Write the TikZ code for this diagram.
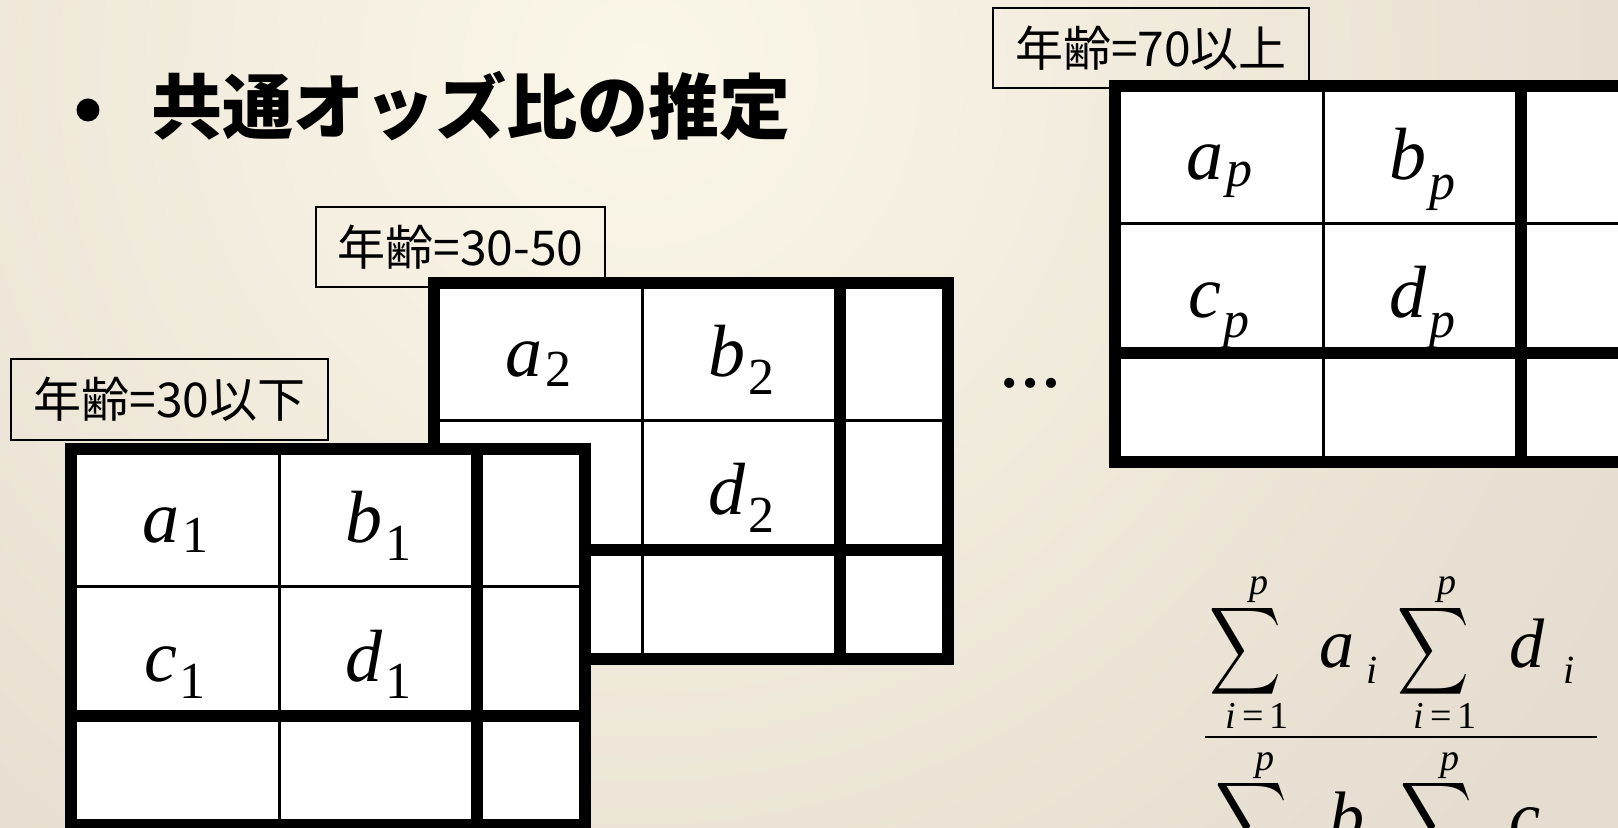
\documentclass[tikz,border=0pt]{standalone}
\usepackage{amsmath}
\usepackage{graphicx}
\usepackage{fontspec}
\newfontfamily\jp{Noto Sans CJK JP}
\newfontfamily\tms{Liberation Serif}
\usetikzlibrary{calc}
\definecolor{bgbase}{RGB}{229,221,207}
\definecolor{bglight}{RGB}{251,247,232}
\tikzset{
  thickln/.style={line width=6pt},
  thinln/.style={line width=1.5pt},
  lbl/.style={draw, line width=1pt, inner sep=0pt, anchor=north west,
    font=\jp\fontsize{24}{26}\selectfont},
  cellv/.style={anchor=base, inner sep=0pt, font=\tms\fontsize{37}{40}\selectfont},
  fletter/.style={anchor=base west, inner sep=0pt, font=\tms\itshape\fontsize{35}{37}\selectfont},
  fsub/.style={anchor=base west, inner sep=0pt, font=\tms\itshape\fontsize{20}{22}\selectfont},
  lim/.style={anchor=base, inner sep=0pt, font=\tms\fontsize{19}{21}\selectfont},
  sig/.style={inner sep=0pt, font=\fontsize{24.88}{26}\selectfont},
}
% letter with dropped subscript
\newcommand\cv[3]{{\itshape #1}\kern1.5pt\raisebox{-#3}{\fontsize{26}{28}\selectfont #2}}
% contingency table: x, y (top-left border centre), name prefix, subscript, drop for a, drop for others
\newcommand\ctable[6]{%
  \begin{scope}[shift={(#1,#2)}]
    \fill[white] (0,0) rectangle (514,376);
    \draw[thinln] (208,0) -- (208,376);
    \draw[thinln] (0,138) -- (514,138);
    \draw[thickln] (406,0) -- (406,376);
    \draw[thickln] (0,267) -- (514,267);
    \draw[thickln] (0,0) rectangle (514,376);
    \node[cellv] (#3a) at (104,94) {\cv{a}{#4}{#5}};
    \node[cellv] (#3b) at (307,94) {\cv{b}{#4}{#6}};
    \node[cellv] (#3c) at (104,232) {\cv{c}{#4}{#6}};
    \node[cellv] (#3d) at (307,232) {\cv{d}{#4}{#6}};
  \end{scope}}
\newcommand\sumterm[3]{% x, y of sigma centre, name
  \node[sig] (#3) at (#1,#2) {\scalebox{1.0}[1.23]{$\displaystyle\sum$}};
  \node[lim] (#3up) at ($(#3)+(14,-56)$) {\itshape p};
  \node[lim] (#3lo) at ($(#3)+(12,77)$) {{\itshape i}\kern3pt=\kern3pt1};}
\begin{document}
\begin{tikzpicture}[x=0.5pt,y=-0.5pt]
\useasboundingbox (0,0) rectangle (1618,828);
\clip (0,0) rectangle (1618,828);
% background
\fill[bgbase] (0,0) rectangle (1618,828);
\shade[inner color=bglight, outer color=bgbase] (640,70) circle [radius=560pt];

% title
\node[circle, fill=black, inner sep=0pt, minimum size=11.5pt] (bullet) at (88,110) {};
\node[anchor=base west, inner sep=0pt, font=\jp\bfseries\fontsize{35.5}{38}\selectfont] (title) at (151,134) {共通オッズ比の推定};

% table 3 (age >= 70)
\node[lbl, minimum width=158pt, minimum height=40pt] (lab3) at (992,7) {年齢=70以上};
\ctable{1115}{86}{tp}{\itshape p}{3.5pt}{10pt}

% table 2 (age 30-50)
\node[lbl, minimum width=144.5pt, minimum height=40pt] (lab2) at (315,206) {年齢=30-50};
\ctable{434}{283}{tb}{2}{5pt}{9pt}

% table 1 (age <= 30)
\node[lbl, minimum width=158.5pt, minimum height=40.5pt] (lab1) at (10,358) {年齢=30以下};
\ctable{71}{449}{ta}{1}{5pt}{9pt}

% dots
\node[anchor=base, inner sep=0pt, font=\tms\bfseries\fontsize{31}{33}\selectfont] (dots) at (1030,388) {…};

% Mantel-Haenszel estimator
\sumterm{1245}{651}{s1}
\node[fletter] (na) at (1319,668) {a};
\node[fsub] (nai) at (1366,683) {i};
\sumterm{1433}{651}{s2}
\node[fletter] (nd) at (1509,668) {d};
\node[fsub] (ndi) at (1563,683) {i};
\coordinate (fracL) at (1205,737);
\coordinate (fracR) at (1597,737);
\draw[line width=1.25pt] (fracL) -- (fracR);
\sumterm{1251}{826}{s3}
\node[fletter] (db) at (1329,840) {b};
\node[fsub] (dbi) at (1374,855) {i};
\sumterm{1436}{826}{s4}
\node[fletter] (dc) at (1509,840) {c};
\node[fsub] (dci) at (1563,855) {i};
\end{tikzpicture}
\end{document}
